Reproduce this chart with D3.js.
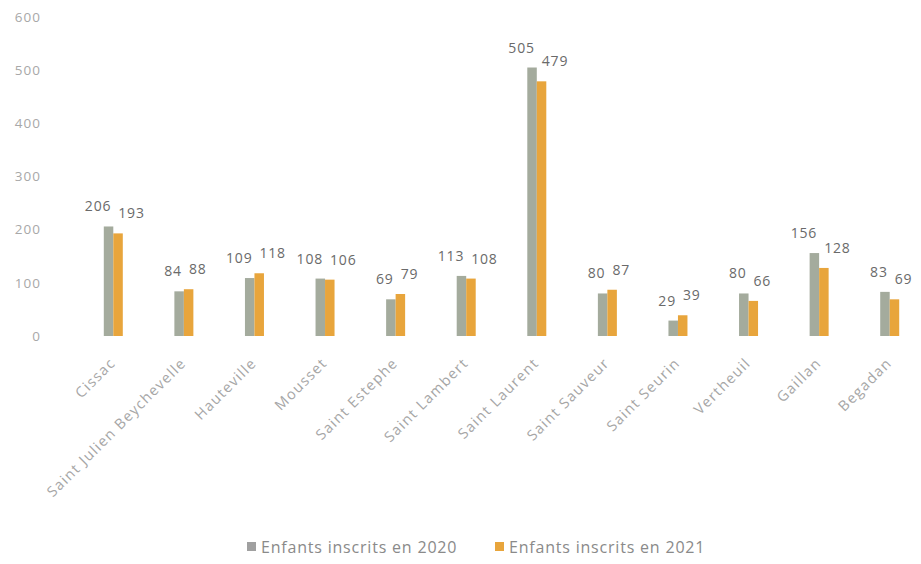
<!DOCTYPE html>
<html><head><meta charset="utf-8">
<script src="https://cdn.jsdelivr.net/npm/d3@7"></script>
<style>body{margin:0;background:#fff}svg{display:block}</style>
</head><body>
<svg id="c" width="921" height="564"></svg>
<script>
const categories = ["Cissac","Saint Julien Beychevelle","Hauteville","Mousset","Saint Estephe","Saint Lambert","Saint Laurent","Saint Sauveur","Saint Seurin","Vertheuil","Gaillan","Begadan"];
const values2020 = [206,84,109,108,69,113,505,80,29,80,156,83];
const values2021 = [193,88,118,106,79,108,479,87,39,66,128,69];
const seriesNames = ["Enfants inscrits en 2020","Enfants inscrits en 2021"];
const yTicks = [0,100,200,300,400,500,600];

const colors = ["#a4ab9d","#e8a53c"];
const svg = d3.select("#c");
const font = "'Open Sans', sans-serif";

const x = d3.scaleBand().domain(categories).range([78, 925]);
const y = d3.scaleLinear().domain([0, 600]).range([336, 17]);
const bw = 9.5;

// y axis labels
const yAxis = d3.axisLeft(y).tickValues(yTicks).tickSize(0).tickPadding(0);
const ga = svg.append("g").attr("transform","translate(41,0)").call(yAxis);
ga.select(".domain").remove();
ga.selectAll("text").attr("font-family",font).attr("font-size",13.5)
  .attr("letter-spacing","1px").attr("fill","#a8a8a8");

const cx = c => x(c) + x.bandwidth()/2;

const g = svg.append("g");
categories.forEach((c,i)=>{
  const vals = [values2020[i], values2021[i]];
  vals.forEach((v,k)=>{
    g.append("rect")
      .attr("x", cx(c) - bw + k*bw)
      .attr("y", y(v))
      .attr("width", bw)
      .attr("height", y(0)-y(v))
      .attr("fill", colors[k]);
  });
  // labels
  g.append("text").attr("x", cx(c)-2).attr("y", y(values2020[i])-15)
    .attr("text-anchor","end").attr("font-family",font).attr("font-size",14)
    .attr("letter-spacing","0.8px").attr("fill","#6a6a6a")
    .text(values2020[i]);
  g.append("text").attr("x", cx(c)+5).attr("y", y(values2021[i])-15)
    .attr("text-anchor","start").attr("font-family",font).attr("font-size",14)
    .attr("letter-spacing","0.8px").attr("fill","#6a6a6a")
    .text(values2021[i]);
  // x labels
  g.append("text")
    .attr("transform", `translate(${cx(c)+3},${364}) rotate(-45)`)
    .attr("text-anchor","end").attr("font-family",font).attr("font-size",14.5)
    .attr("letter-spacing","1.3px").attr("fill","#a6a6a6")
    .text(c);
});

// legend
const legX = [247, 495];
seriesNames.forEach((s,k)=>{
  svg.append("rect").attr("x", legX[k]).attr("y", 542).attr("width", 9).attr("height", 9).attr("fill", k===0 ? "#a0a0a0" : colors[k]);
  svg.append("text").attr("x", legX[k]+14).attr("y", 553).attr("font-family",font).attr("font-size",16)
    .attr("letter-spacing","0.8px").attr("fill","#8a8a8a").text(s);
});
</script>
</body></html>
